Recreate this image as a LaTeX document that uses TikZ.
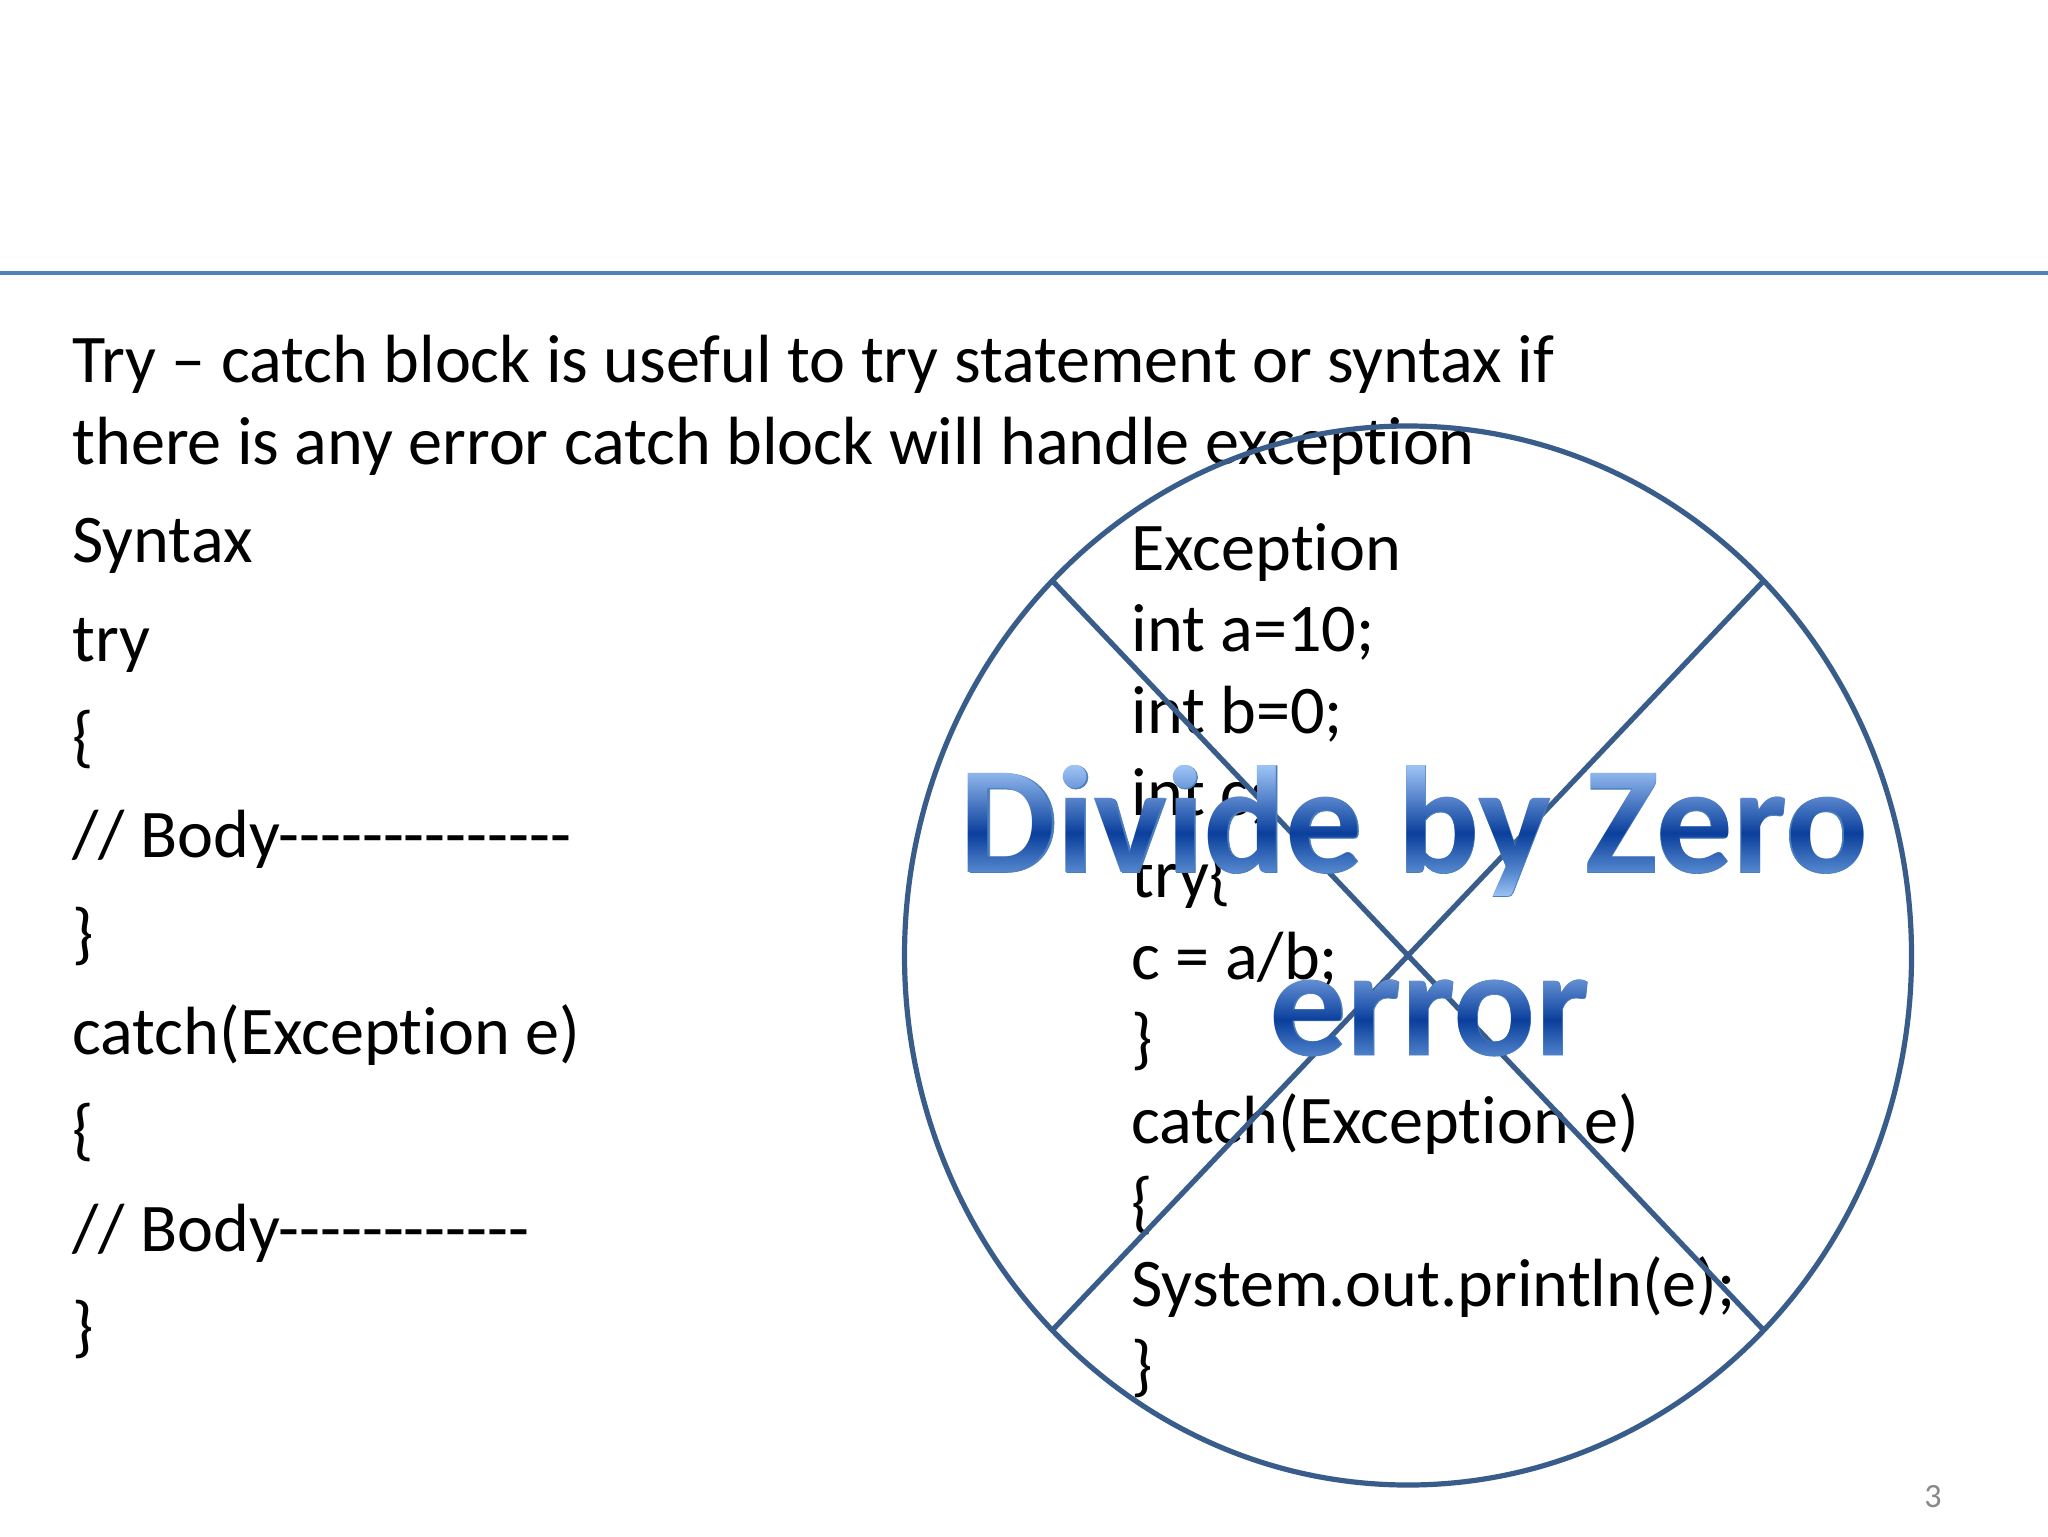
\documentclass[tikz,border=0pt]{standalone}
\usepackage{fontspec}
\setmainfont{Carlito}[Ligatures=NoCommon]
\newfontfamily\waout[FakeBold=0.4,Ligatures=NoCommon]{Carlito Bold}
\usetikzlibrary{fadings,calc,shapes.geometric}
\definecolor{rule}{HTML}{4F81BD}
\definecolor{shapeline}{HTML}{385D8A}
\definecolor{pagenum}{HTML}{898989}
\definecolor{waedge}{HTML}{4A7EBB}
\definecolor{waA}{HTML}{9CC2F5}
\definecolor{waB}{HTML}{5688CE}
\definecolor{waC}{HTML}{0A3F9C}
% The middle 50bp of a shading is what fits the path (25bp to 75bp here).
\pgfdeclareverticalshading{wagrad}{100bp}{
  color(0bp)=(waA); color(28.35bp)=(waA); color(36.3bp)=(waB); color(49.3bp)=(waC); color(71.5bp)=(waA); color(100bp)=(waA)}
\newcommand{\wafont}{\fontsize{76.2}{90}\selectfont\bfseries}
% A fitted fading is stretched from 50bp to its path size: the node undoes that stretch.
\begin{tikzfadingfrompicture}[name=fadeone]
  \node[text=transparent!0,inner sep=0pt,font=\wafont,transform shape,xscale=50.1875/480,yscale=50.1875/75] at (0,0) {Divide by Zero};
\end{tikzfadingfrompicture}
\begin{tikzfadingfrompicture}[name=fadetwo]
  \node[text=transparent!0,inner sep=0pt,font=\wafont,transform shape,xscale=50.1875/200,yscale=50.1875/75] at (0,0) {error};
\end{tikzfadingfrompicture}
\tikzset{
  body/.style={anchor=base west,inner sep=0pt,text=black,font=\fontsize{34.1}{40}\selectfont},
  cross/.style={draw=shapeline,line width=2.6pt},
  wabase/.style={inner sep=0pt,text=waedge,font=\fontsize{76.2}{90}\waout\selectfont},
}
\begin{document}
\begin{tikzpicture}[x=0.5pt,y=-0.5pt]
\useasboundingbox (0,0) rectangle (2048,1536);
\fill[white] (0,0) rectangle (2048,1536);
\coordinate (ruleL) at (0,273);
\coordinate (ruleR) at (2048,273);
\draw[rule,line width=1.6pt] (ruleL) -- (ruleR);
% intro and syntax
\node[body] (t1) at (72,382) {Try – catch block is useful to try statement or syntax if};
\node[body] (t2) at (72,464) {there is any error catch block will handle exception};
\node[body] (s0) at (72,562) {Syntax};
\node[body] (s1) at (72,661) {try};
\node[body] (s2) at (72,759) {\{};
\node[body] (s3) at (72,857) {// Body-{}-{}-{}-{}-{}-{}-{}-{}-{}-{}-{}-{}-{}-};
\node[body] (s4) at (72,956) {\}};
\node[body] (s5) at (72,1054) {catch(Exception e)};
\node[body] (s6) at (72,1152) {\{};
\node[body] (s7) at (72,1251) {// Body-{}-{}-{}-{}-{}-{}-{}-{}-{}-{}-{}-};
\node[body] (s8) at (72,1349) {\}};
% example
\node[body] (e0) at (1131,570) {Exception};
\node[body] (e1) at (1131,651) {int a=10;};
\node[body] (e2) at (1131,733) {int b=0;};
\node[body] (e3) at (1131,815) {int c;};
\node[body] (e4) at (1131,897) {try\{};
\node[body] (e5) at (1131,979) {c = a/b;};
\node[body] (e6) at (1131,1061) {\}};
\node[body] (e7) at (1131,1143) {catch(Exception e)};
\node[body] (e8) at (1131,1225) {\{};
\node[body] (e9) at (1131,1306) {System.out.println(e);};
\node[body] (e10) at (1131,1388) {\}};
% crossed ellipse
\node[ellipse,cross,minimum width=503.5pt,minimum height=529.5pt,inner sep=0pt,outer sep=0pt] (no) at (1408,955.5) {};
\coordinate (xNE) at ($(no.center)+(355.5,-374.5)$);
\coordinate (xNW) at ($(no.center)+(-355.5,-374.5)$);
\coordinate (xSE) at ($(no.center)+(355.5,374.5)$);
\coordinate (xSW) at ($(no.center)+(-355.5,374.5)$);
\draw[cross] (xNE) -- (xSW);
\draw[cross] (xNW) -- (xSE);
% word art
\node[wabase] (wa1) at (1414,831) {Divide by Zero};
\node[wabase] (wa2) at (1430,1018) {error};
\shade[shading=wagrad,path fading=fadeone]
  ($(wa1.center)+(-480,-75)$) rectangle ($(wa1.center)+(480,75)$);
\shade[shading=wagrad,path fading=fadetwo]
  ($(wa2.center)+(-200,-75)$) rectangle ($(wa2.center)+(200,75)$);
\node[anchor=base,inner sep=0pt,text=pagenum,font=\fontsize{17}{20}\selectfont] (pg) at (1933,1507) {3};
\end{tikzpicture}
\end{document}
